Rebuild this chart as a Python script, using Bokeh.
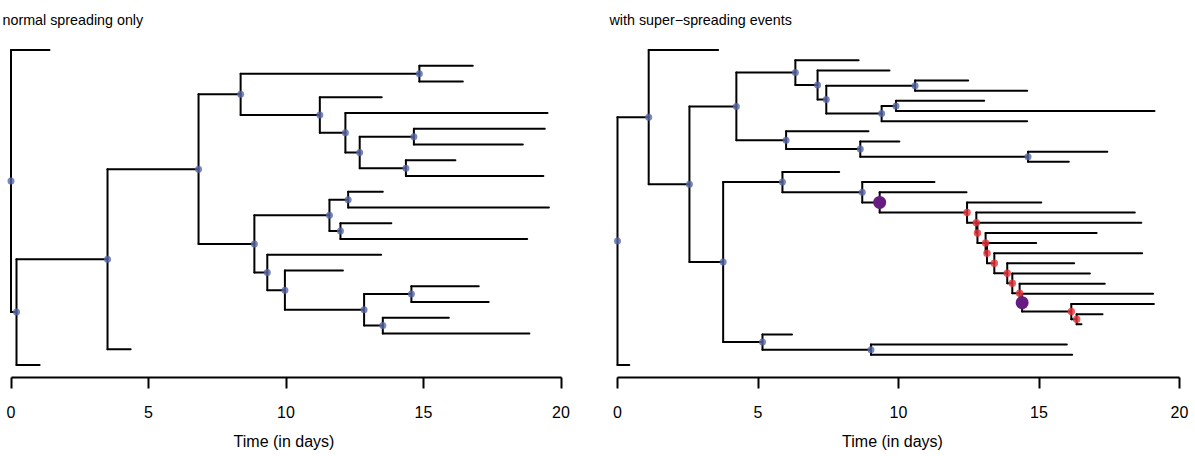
from bokeh.plotting import figure
from bokeh.layouts import row
from bokeh.models import Range1d, FixedTicker
from bokeh.embed import file_html
from bokeh.resources import INLINE

# ---------------- data ----------------
tick_values = [0, 5, 10, 15, 20]
axis_title = "Time (in days)"
left_title = "normal spreading only"
right_title = "with super\u2212spreading events"

# Left tree, nodes in pre-order (children listed top to bottom)
left_parent = [-1, 0, 0, 2, 3, 4, 5, 6, 6, 5, 9, 9, 11, 11, 13, 14, 14, 13, 17, 17,
               4, 20, 21, 22, 22, 21, 25, 25, 20, 28, 28, 30, 30, 32, 33, 33, 32, 36, 36, 3, 2]
left_time = [0.00, 1.40, 0.20, 3.51, 6.82, 8.35, 14.85, 16.79, 16.43, 11.23, 13.48, 12.16,
             19.51, 12.68, 14.65, 19.41, 18.61, 14.36, 16.16, 19.36, 8.85, 11.58, 12.26,
             13.52, 19.56, 11.98, 13.83, 18.77, 9.32, 13.46, 9.96, 12.07, 12.84, 14.56,
             17.01, 17.37, 13.52, 15.92, 18.85, 4.35, 1.04]

# Right tree, nodes in pre-order
right_parent = [-1, 0, 1, 1, 3, 4, 5, 5, 7, 7, 9, 10, 10, 9, 13, 14, 14, 13, 4, 18, 18,
                20, 20, 22, 22, 3, 25, 26, 26, 28, 28, 30, 30, 32, 32, 34, 34, 36, 36, 38,
                38, 40, 40, 42, 42, 44, 44, 46, 46, 48, 48, 50, 50, 52, 52, 54, 54, 25, 57,
                57, 59, 59, 0]
right_time = [0.00, 1.11, 3.58, 2.56, 4.23, 6.33, 8.58, 7.12, 9.68, 7.43, 10.59, 12.48,
              14.58, 9.40, 9.91, 13.05, 19.11, 14.58, 6.00, 8.93, 8.64, 10.03, 14.61,
              17.43, 16.06, 3.76, 5.87, 7.89, 8.71, 11.28, 9.33, 12.42, 12.44, 15.08,
              12.77, 18.41, 12.81, 18.64, 13.10, 17.05, 13.15, 14.90, 13.41, 18.67, 13.87,
              16.25, 14.05, 16.81, 14.31, 17.34, 14.40, 19.06, 16.15, 19.09, 16.34, 17.26,
              16.51, 5.16, 6.21, 9.02, 15.99, 16.18, 0.42]
right_super_nodes = [30, 50]
right_cluster_nodes = [32, 34, 36, 38, 40, 42, 44, 46, 48, 52, 54]

# ---------------- style ----------------
FONT = "Liberation Sans"
BLUE = "#5868A8"
RED = "#E8353A"
PURPLE = "#661C80"


def layout(parent):
    n = len(parent)
    children = [[] for _ in range(n)]
    for i, p in enumerate(parent):
        if p >= 0:
            children[p].append(i)
    y = [0.0] * n
    k = 0
    for i in range(n):
        if not children[i]:
            k += 1
            y[i] = float(k)
    for i in reversed(range(n)):
        if children[i]:
            y[i] = (y[children[i][0]] + y[children[i][-1]]) / 2.0
    return children, y, k


def make_fig(title, parent, time, x_start, x_end, fw, mb_right, title_offset,
             super_nodes=(), cluster_nodes=()):
    children, y, ntip = layout(parent)
    pad = 0.04 * (ntip - 1)
    p = figure(frame_width=fw, frame_height=340,
               x_range=Range1d(x_start, x_end),
               y_range=Range1d(ntip + pad, 1 - pad),
               output_backend="svg", toolbar_location=None,
               y_axis_location=None,
               min_border_left=0, min_border_right=mb_right,
               min_border_top=36, min_border_bottom=0)
    p.grid.visible = False
    p.outline_line_color = None
    p.background_fill_color = "white"
    p.border_fill_color = "white"

    p.title.text = title
    p.title.align = "left"
    p.title.offset = title_offset
    p.title.text_font = FONT
    p.title.text_font_size = "14.3px"
    p.title.text_font_style = "normal"
    p.title.text_color = "black"
    p.title.standoff = 19

    # branches
    hx0, hx1, hy = [], [], []
    for i, pa in enumerate(parent):
        if pa >= 0:
            hx0.append(time[pa]); hx1.append(time[i]); hy.append(y[i])
    p.segment(hx0, hy, hx1, hy, line_color="black", line_width=2, line_cap="round")
    vx, vy0, vy1 = [], [], []
    for i, ch in enumerate(children):
        if ch:
            vx.append(time[i]); vy0.append(y[ch[0]]); vy1.append(y[ch[-1]])
    p.segment(vx, vy0, vx, vy1, line_color="black", line_width=2, line_cap="round")

    # node dots
    special = set(super_nodes) | set(cluster_nodes)
    nx = [time[i] for i, ch in enumerate(children) if ch and i not in special]
    ny = [y[i] for i, ch in enumerate(children) if ch and i not in special]
    p.scatter(nx, ny, size=7, fill_color=BLUE, fill_alpha=0.8, line_color=None)
    if cluster_nodes:
        p.scatter([time[i] for i in cluster_nodes], [y[i] for i in cluster_nodes],
                  size=7.5, fill_color=RED, fill_alpha=0.8, line_color=None)
    if super_nodes:
        p.scatter([time[i] for i in super_nodes], [y[i] for i in super_nodes],
                  size=13, fill_color=PURPLE, fill_alpha=1.0, line_color=None)

    ax = p.xaxis[0]
    ax.bounds = (tick_values[0], tick_values[-1])
    ax.ticker = FixedTicker(ticks=tick_values)
    ax.axis_line_width = 2
    ax.axis_line_color = "black"
    ax.major_tick_line_width = 2
    ax.major_tick_line_color = "black"
    ax.major_tick_in = 0
    ax.major_tick_out = 11
    ax.minor_tick_line_color = None
    ax.major_label_text_font = FONT
    ax.major_label_text_font_size = "16px"
    ax.major_label_text_color = "black"
    ax.major_label_standoff = 17
    ax.axis_label = axis_title
    ax.axis_label_text_font = FONT
    ax.axis_label_text_font_size = "16px"
    ax.axis_label_text_font_style = "normal"
    ax.axis_label_text_color = "black"
    ax.axis_label_standoff = 12
    return p


# canvas origin coincides with the picture's top-left corner
p1 = make_fig(left_title, left_parent, left_time,
              (0 - 10.5) / 27.5, (567 - 10.5) / 27.5, 567, 30, 2)
p2 = make_fig(right_title, right_parent, right_time,
              (597 - 617.0) / 28.1, (1187 - 617.0) / 28.1, 590, 8, 12,
              super_nodes=right_super_nodes, cluster_nodes=right_cluster_nodes)

layout_row = row(p1, p2)
open("out.html", "w").write(file_html(layout_row, INLINE))
